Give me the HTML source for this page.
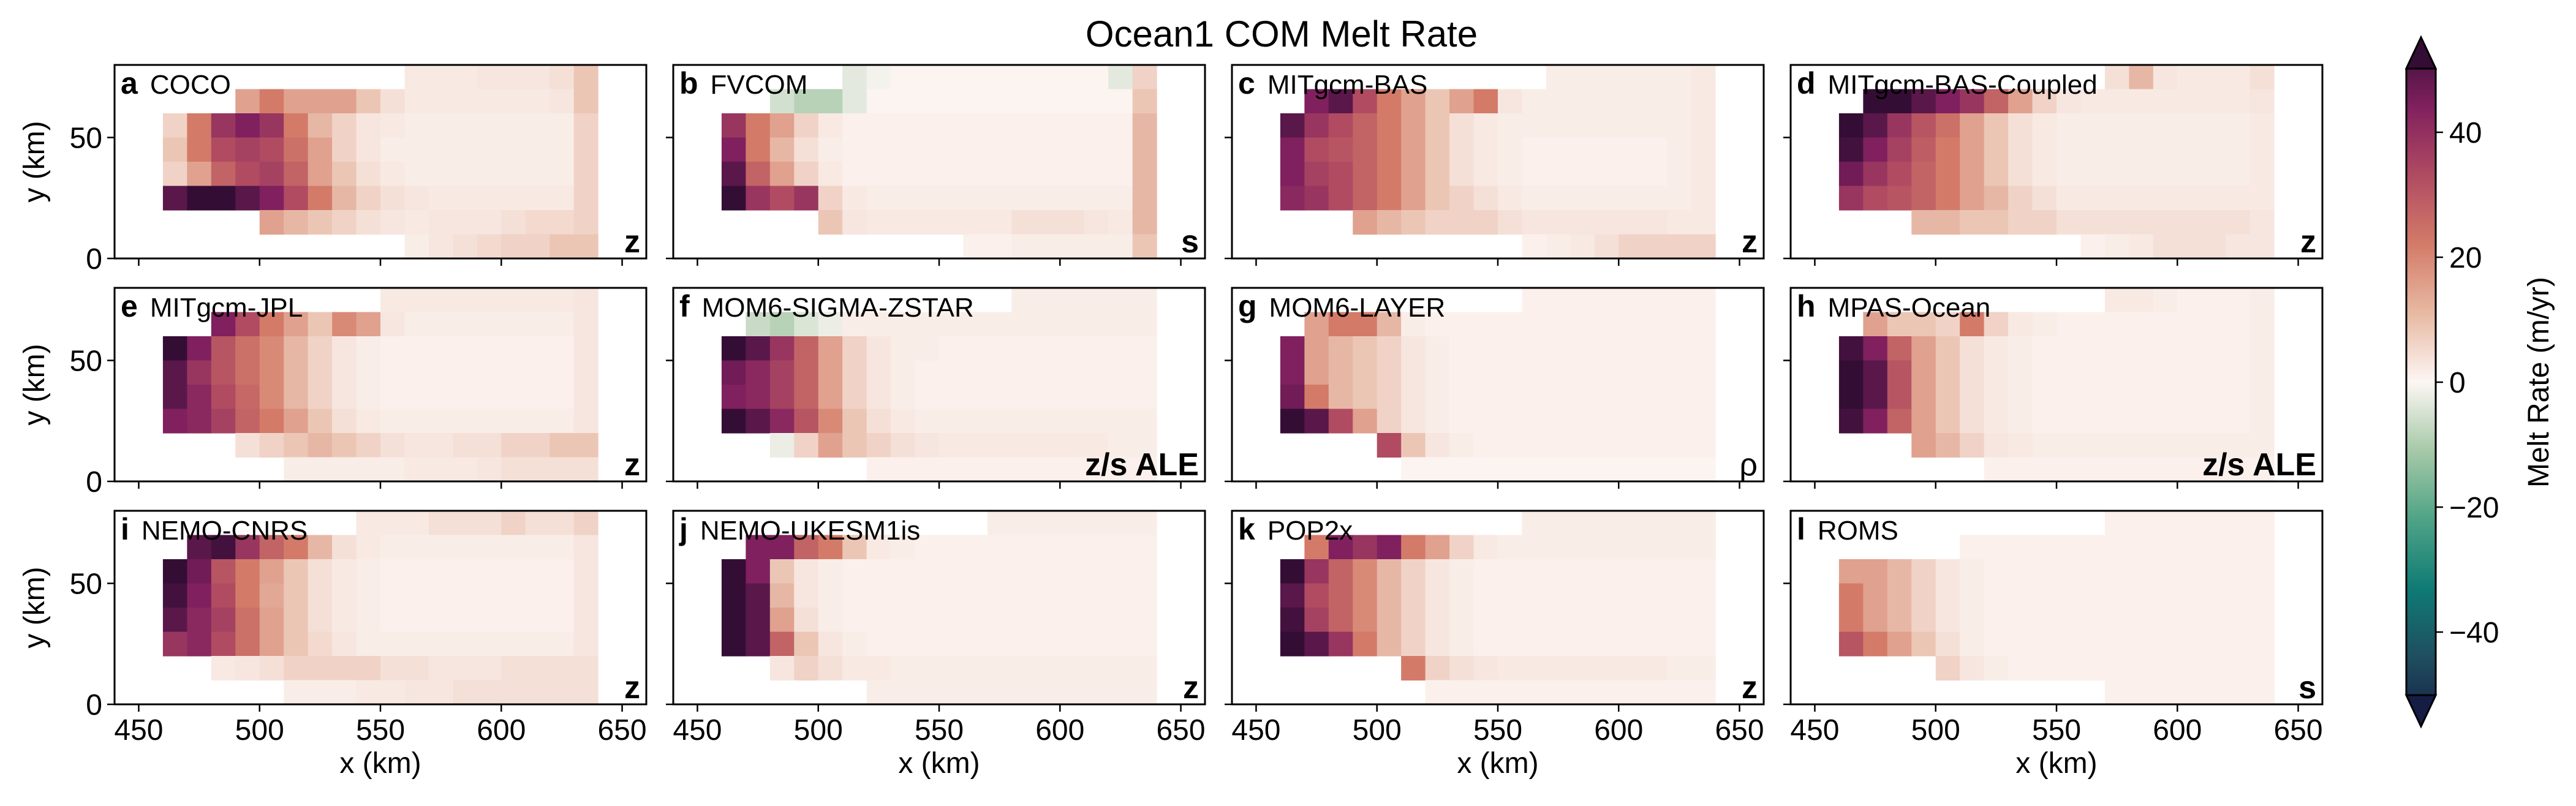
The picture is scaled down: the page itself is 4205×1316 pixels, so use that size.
<!DOCTYPE html>
<html><head><meta charset="utf-8">
<style>
html,body{margin:0;padding:0;background:#fff;}
svg{display:block;font-family:"Liberation Sans","DejaVu Sans",sans-serif;}
</style></head>
<body>
<svg id="fig" width="4205" height="1316" viewBox="0 0 4205 1316" xmlns="http://www.w3.org/2000/svg">
<defs>
<linearGradient id="cbgrad" x1="0" y1="1" x2="0" y2="0">
<stop offset="0" stop-color="#151d44"/><stop offset="0.1" stop-color="#1f4e5f"/>
<stop offset="0.2" stop-color="#0f7b75"/><stop offset="0.3" stop-color="#4fa386"/>
<stop offset="0.4" stop-color="#a6c9a8"/><stop offset="0.5" stop-color="#fdf6f4"/>
<stop offset="0.6" stop-color="#e8b9a2"/><stop offset="0.7" stop-color="#d37b68"/>
<stop offset="0.8" stop-color="#b04b62"/><stop offset="0.9" stop-color="#80205e"/>
<stop offset="1" stop-color="#340d35"/>
</linearGradient>
</defs>
<text x="2092" y="76" font-size="60" text-anchor="middle">Ocean1 COM Melt Rate</text>
<g id="panels"></g>
<g>
<polygon points="3952,61 3976,112 3976,1135 3952,1186 3928,1135 3928,112" fill="url(#cbgrad)" stroke="#000" stroke-width="3"/>
<polygon points="3952,61 3976,112 3928,112" fill="#340d35" stroke="#000" stroke-width="3"/>
<polygon points="3952,1186 3976,1135 3928,1135" fill="#151d44" stroke="#000" stroke-width="3"/>
<g id="cbticks"></g>
<text transform="translate(4160,624) rotate(-90)" font-size="48" text-anchor="middle">Melt Rate (m/yr)</text>
</g>
</svg>
<script>
const _ = null;
const xCenters = [465,475,485,495,505,515,525,535,545,555,565,575,585,595,605,615,625,635];
const yCenters = [75,65,55,45,35,25,15,5];
const xTicks = [450,500,550,600,650];
const yTicks = [0,50];
const cbTicks = [-40,-20,0,20,40];
const panelNames = ["COCO","FVCOM","MITgcm-BAS","MITgcm-BAS-Coupled","MITgcm-JPL","MOM6-SIGMA-ZSTAR","MOM6-LAYER","MPAS-Ocean","NEMO-CNRS","NEMO-UKESM1is","POP2x","ROMS"];
const panelLetters = ["a","b","c","d","e","f","g","h","i","j","k","l"];
const coordTypes = ["z","s","z","z","z","z/s ALE","ρ","z/s ALE","z","z","z","s"];
const meltA = [
[_,_,_,_,_,_,_,_,_,_,4,4,4,5,5,5,6,10],
[_,_,_,15,20,15,15,15,10,6,4,4,4,4,4,4,5,10],
[8,20,35,40,35,20,12,8,5,4,3,3,3,3,3,3,3,8],
[10,20,30,32,30,22,15,8,5,3,3,3,3,3,3,3,3,8],
[8,15,25,30,32,25,15,10,6,4,3,3,3,3,3,3,3,8],
[45,50,50,45,40,30,20,12,8,6,5,4,4,4,4,4,4,8],
[_,_,_,_,15,12,10,8,6,5,4,5,5,5,6,7,7,8],
[_,_,_,_,_,_,_,_,_,_,3,5,6,7,8,8,10,10]];
const meltB = [
[_,_,_,_,_,-3,-1,1,1,1,1,1,1,1,1,1,-3,8],
[_,_,-5,-8,-8,-3,1,1,1,1,1,1,1,1,1,1,1,10],
[35,20,15,8,4,2,2,2,2,2,2,2,2,2,2,2,2,12],
[40,20,12,6,3,2,2,2,2,2,2,2,2,2,2,2,2,12],
[45,25,15,8,4,2,2,2,2,2,2,2,2,2,2,2,2,12],
[50,35,30,35,8,4,3,3,3,3,3,3,3,3,3,3,3,12],
[_,_,_,_,10,5,4,4,4,4,4,4,6,6,6,5,4,12],
[_,_,_,_,_,_,_,_,_,_,2,2,3,3,3,3,3,10]];
const meltC = [
[_,_,_,_,_,_,_,_,_,_,_,3,3,3,3,3,3,4],
[_,40,45,30,20,15,10,15,20,5,3,3,3,3,3,3,3,4],
[45,35,30,25,20,15,10,6,4,3,3,3,3,3,3,3,3,4],
[40,30,28,25,20,15,10,6,4,3,2,2,2,2,2,2,3,4],
[40,32,30,25,20,15,10,6,4,3,2,2,2,2,2,2,3,4],
[38,35,30,25,20,15,10,8,6,4,3,3,3,3,3,3,3,4],
[_,_,_,15,12,10,8,8,8,6,5,5,5,5,5,5,4,4],
[_,_,_,_,_,_,_,_,_,_,2,3,4,6,8,8,8,8]];
const meltD = [
[_,_,_,_,_,_,_,_,_,_,_,6,12,5,4,4,4,6],
[_,50,50,45,40,35,25,15,8,5,4,4,4,4,4,4,4,5],
[50,45,35,28,22,15,10,6,4,3,3,3,3,3,3,3,3,4],
[48,40,32,26,20,15,10,6,4,3,3,3,3,3,3,3,3,4],
[42,35,30,25,20,15,10,6,4,3,3,3,3,3,3,3,3,4],
[35,30,28,25,20,15,12,8,6,4,4,4,4,4,4,4,4,4],
[_,_,_,12,12,10,10,8,8,6,6,6,6,6,6,6,6,5],
[_,_,_,_,_,_,_,_,_,_,2,3,4,6,6,6,5,5]];
const meltE = [
[_,_,_,_,_,_,_,_,_,4,4,4,4,4,4,4,4,5],
[_,_,40,30,20,15,10,18,15,5,3,3,3,3,3,3,3,5],
[50,40,28,22,18,12,8,5,3,2,2,2,2,2,2,2,2,5],
[45,35,28,22,18,12,8,5,3,2,2,2,2,2,2,2,2,5],
[45,38,30,24,18,12,8,5,3,2,2,2,2,2,2,2,2,5],
[40,38,32,25,20,15,10,6,4,3,3,3,3,3,3,3,3,5],
[_,_,_,6,8,10,12,10,8,6,5,5,6,6,8,8,10,10],
[_,_,_,_,_,3,3,3,3,3,4,4,4,5,6,6,6,6]];
const meltF = [
[_,_,_,_,_,_,_,_,_,_,_,_,3,3,3,3,3,3],
[_,-6,-8,-4,-2,3,3,3,3,3,3,3,3,3,3,3,3,3],
[50,45,35,25,15,8,5,3,3,2,2,2,2,2,2,2,2,2],
[42,38,32,25,15,8,5,3,2,2,2,2,2,2,2,2,2,2],
[40,38,32,25,15,8,5,3,2,2,2,2,2,2,2,2,2,2],
[50,45,38,28,18,10,6,4,3,3,3,3,3,3,3,3,3,3],
[_,_,-2,8,15,10,8,6,5,4,4,4,4,4,4,4,3,3],
[_,_,_,_,_,_,2,2,2,2,2,2,2,2,2,2,2,2]];
const meltG = [
[_,_,_,_,_,_,_,_,_,_,2,2,2,2,2,2,2,2],
[_,15,20,20,12,3,2,2,2,2,2,2,2,2,2,2,2,2],
[40,15,12,10,8,5,3,2,2,2,2,2,2,2,2,2,2,2],
[40,15,12,10,8,5,3,2,2,2,2,2,2,2,2,2,2,2],
[42,20,12,10,8,5,3,2,2,2,2,2,2,2,2,2,2,2],
[50,45,30,15,8,5,3,2,2,2,2,2,2,2,2,2,2,2],
[_,_,_,_,30,10,5,3,2,2,2,2,2,2,2,2,2,2],
[_,_,_,_,_,1,1,1,1,1,1,1,1,1,1,1,1,1]];
const meltH = [
[_,_,_,_,_,_,_,_,_,_,_,4,4,3,2,2,2,3],
[_,15,10,10,8,20,8,4,3,2,2,2,2,2,2,2,2,3],
[48,40,25,15,10,6,4,3,2,2,2,2,2,2,2,2,2,3],
[50,45,28,15,10,6,4,3,2,2,2,2,2,2,2,2,2,3],
[50,45,28,15,10,6,4,3,2,2,2,2,2,2,2,2,2,3],
[48,40,25,15,10,6,4,3,2,2,2,2,2,2,2,2,2,3],
[_,_,_,15,12,8,5,4,3,3,3,3,3,3,3,3,3,3],
[_,_,_,_,_,_,2,2,2,2,2,2,2,2,2,2,2,2]];
const meltI = [
[_,_,_,_,_,_,_,_,4,4,4,6,6,6,8,6,6,8],
[_,45,48,35,25,20,12,6,4,3,3,3,3,3,3,3,3,5],
[50,42,28,20,15,10,6,4,3,2,2,2,2,2,2,2,2,5],
[48,40,30,20,14,10,6,4,3,2,2,2,2,2,2,2,2,5],
[45,38,32,22,15,10,6,4,3,2,2,2,2,2,2,2,2,5],
[35,38,30,22,15,10,7,5,3,3,3,3,3,3,3,3,3,5],
[_,_,4,5,6,8,8,8,8,6,6,5,5,5,6,6,6,6],
[_,_,_,_,_,3,3,3,4,4,5,5,6,6,6,6,6,6]];
const meltJ = [
[_,_,_,_,_,_,_,_,_,_,_,3,3,3,3,3,3,3],
[_,40,40,25,20,10,4,3,2,2,2,2,2,2,2,2,2,2],
[50,40,10,5,3,2,2,2,2,2,2,2,2,2,2,2,2,2],
[50,45,12,5,3,2,2,2,2,2,2,2,2,2,2,2,2,2],
[50,45,15,6,3,2,2,2,2,2,2,2,2,2,2,2,2,2],
[50,45,25,10,5,3,2,2,2,2,2,2,2,2,2,2,2,2],
[_,_,5,8,6,4,4,3,3,3,3,3,3,3,3,3,3,3],
[_,_,_,_,_,_,3,3,3,3,3,3,3,3,3,3,3,3]];
const meltK = [
[_,_,_,_,_,_,_,_,_,_,3,3,3,3,3,3,3,3],
[_,20,40,35,40,20,15,8,4,3,3,3,3,3,3,3,3,3],
[50,35,25,18,12,8,5,3,2,2,2,2,2,2,2,2,2,2],
[45,30,25,18,12,8,5,3,2,2,2,2,2,2,2,2,2,2],
[48,32,25,18,12,8,5,3,2,2,2,2,2,2,2,2,2,2],
[50,45,35,20,12,8,5,3,2,2,2,2,2,2,2,2,2,2],
[_,_,_,_,_,20,8,6,5,4,4,4,4,4,4,4,3,3],
[_,_,_,_,_,_,2,2,2,2,2,2,2,2,2,2,2,2]];
const meltL = [
[_,_,_,_,_,_,_,_,_,_,_,2,2,2,2,2,2,2],
[_,_,_,_,_,2,2,2,2,2,2,2,2,2,2,2,2,2],
[15,15,12,8,5,3,2,2,2,2,2,2,2,2,2,2,2,2],
[20,15,12,8,5,3,2,2,2,2,2,2,2,2,2,2,2,2],
[20,15,12,8,5,3,2,2,2,2,2,2,2,2,2,2,2,2],
[28,20,15,10,6,3,2,2,2,2,2,2,2,2,2,2,2,2],
[_,_,_,_,8,5,3,2,2,2,2,2,2,2,2,2,2,2],
[_,_,_,_,_,_,_,_,_,_,_,2,2,2,2,2,2,2]];
const panelData = [meltA,meltB,meltC,meltD,meltE,meltF,meltG,meltH,meltI,meltJ,meltK,meltL];

const NS = "http://www.w3.org/2000/svg";
const stops = [[-50,[21,29,68]],[-40,[31,78,95]],[-30,[15,123,117]],[-20,[79,163,134]],[-10,[166,201,168]],[0,[253,247,245]],[5,[247,230,223]],[10,[236,198,181]],[20,[211,123,104]],[30,[176,75,98]],[40,[128,32,94]],[50,[52,13,53]]];
function cmap(v){
  v=Math.max(-50,Math.min(50,v));
  for(let i=0;i<stops.length-1;i++){
    const a=stops[i],b=stops[i+1];
    if(v<=b[0]){const t=(v-a[0])/(b[0]-a[0]);
      const c=a[1].map((x,k)=>Math.round(x+(b[1][k]-x)*t));
      return "rgb("+c.join(",")+")";}
  }
  return "rgb(52,13,53)";
}
function mk(tag,attrs,parent){const e=document.createElementNS(NS,tag);for(const k in attrs)e.setAttribute(k,attrs[k]);parent.appendChild(e);return e;}
const colLefts=[187,1099,2011,2923], rowTops=[106,470,834], W=868, H=316;
const XMIN=440,XMAX=660,YMIN=0,YMAX=80;
const root=document.getElementById("panels");
panelData.forEach((grid,p)=>{
  const r=Math.floor(p/4), c=p%4, L=colLefts[c], T=rowTops[r];
  const sx=x=>L+(x-XMIN)/(XMAX-XMIN)*W;
  const sy=y=>T+H-(y-YMIN)/(YMAX-YMIN)*H;
  const g=mk("g",{},root);
  
  
  grid.forEach((row,ri)=>{row.forEach((v,ci)=>{
    if(v===null)return;
    const x0=sx(xCenters[ci]-5), x1=sx(xCenters[ci]+5), y0=sy(yCenters[ri]+5), y1=sy(yCenters[ri]-5);
    const rc=mk("rect",{x:x0,y:y0,width:x1-x0+0.6,height:y1-y0+0.6,fill:cmap(v)},g);
    
    
  });});
  const fr=mk("rect",{x:L,y:T,width:W,height:H,fill:"none",stroke:"#000","stroke-width":3},g);
  
  
  xTicks.forEach(t=>{
    const tk=mk("line",{x1:sx(t),x2:sx(t),y1:T+H,y2:T+H+12,stroke:"#000","stroke-width":2.5},g);
    
    
    if(r===2){
      const tl=mk("text",{x:sx(t),y:T+H+58,"font-size":48,"text-anchor":"middle"},g);
      tl.textContent=t;
      
      
    }
  });
  yTicks.forEach(t=>{
    const tk=mk("line",{x1:L-12,x2:L,y1:sy(t),y2:sy(t),stroke:"#000","stroke-width":2.5},g);
    
    
    if(c===0){
      const tl=mk("text",{x:L-20,y:sy(t)+17,"font-size":48,"text-anchor":"end"},g);
      tl.textContent=t;
      
      
    }
  });
  const lb=mk("text",{x:L+10,y:T+47,"font-size":44},g);
  
  
  const b=mk("tspan",{"font-weight":"bold","font-size":50},lb); b.textContent=panelLetters[p];
  const n=mk("tspan",{dx:20},lb); n.textContent=panelNames[p];
  const ct=mk("text",{x:L+W-10,y:T+H-10,"font-size":52,"text-anchor":"end","font-weight":coordTypes[p]==="ρ"?"normal":"bold"},g);
  ct.textContent=coordTypes[p];
  
  
  if(c===0){
    const yl=mk("text",{transform:"translate("+(L-115)+","+(T+H/2)+") rotate(-90)","font-size":48,"text-anchor":"middle"},g);
    yl.textContent="y (km)";
    
    
  }
  if(r===2){
    const xl=mk("text",{x:L+W/2,y:1262,"font-size":48,"text-anchor":"middle"},g);
    xl.textContent="x (km)";
    
    
  }
});
const cbg=document.getElementById("cbticks");
const cy=v=>624-(v/50)*510;
cbTicks.forEach(t=>{
  const tk=mk("line",{x1:3976,x2:3988,y1:cy(t),y2:cy(t),stroke:"#000","stroke-width":2.5},cbg);
  
  
  const tl=mk("text",{x:3998,y:cy(t)+17,"font-size":48},cbg);
  tl.textContent=(t<0?"\u2212":"")+Math.abs(t);
  
  
});
</script>
</body></html>
